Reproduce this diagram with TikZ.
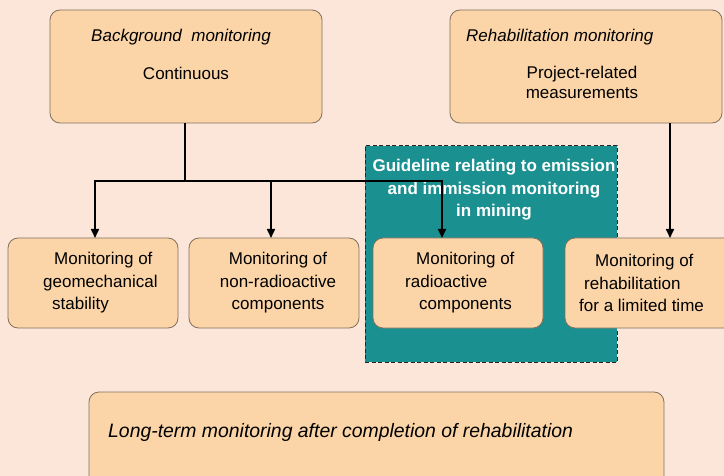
\documentclass[tikz,border=0pt]{standalone}
\usepackage{fontspec}
\setmainfont{Liberation Sans}
\usetikzlibrary{arrows.meta,calc}
\definecolor{bgcol}{RGB}{252,230,218}
\definecolor{boxfill}{RGB}{251,213,168}
\definecolor{boxline}{RGB}{130,112,95}
\definecolor{teal}{RGB}{26,144,144}
\begin{document}
\begin{tikzpicture}[x=1pt,y=-1pt,
  box/.style={draw=boxline, line width=0.8pt, fill=boxfill, rounded corners=10pt, inner sep=0pt},
  txt/.style={inner sep=0pt, font=\fontsize{17}{22.5}\selectfont, text=black},
  conn/.style={line width=1.6pt, black},
  arr/.style={conn, -{Triangle[length=9pt,width=8pt]}}]
\useasboundingbox (0,0) rectangle (724,476);
\clip (0,0) rectangle (724,476);
\fill[bgcol] (0,0) rectangle (724,476);
% guideline area
\node[draw=black!85, dash pattern=on 4pt off 2.5pt, line width=1pt, fill=teal, minimum width=252pt, minimum height=216pt, inner sep=0pt] (gl) at (491,254) {};
\node[txt, text=white, font=\fontsize{17}{22.5}\selectfont\bfseries, align=center] (glt) at (494,190) {Guideline relating to emission\\and immission monitoring\\in mining};
% top boxes
\node[box, minimum width=272pt, minimum height=113pt] (tl) at (186,66.5) {};
\node[txt, font=\fontsize{17}{22.5}\selectfont\itshape] (tlt1) at (181,37) {Background\ \ monitoring};
\node[txt] (tlt2) at (186,73) {Continuous};
\node[box, minimum width=272pt, minimum height=113pt] (tr) at (586,66.5) {};
\node[txt, font=\fontsize{17}{22.5}\selectfont\itshape, anchor=west] (trt1) at (466,37) {Rehabilitation monitoring};
\node[txt, align=center, font=\fontsize{17}{20}\selectfont] (trt2) at (582,82) {Project-related\\measurements};
% bottom row
\node[box, minimum width=170pt, minimum height=90pt] (b1) at (93,283) {};
\node[txt, align=left, anchor=west] (b1t) at (43,283) {\hspace*{11pt}Monitoring of\\geomechanical\\\hspace*{9pt}stability};
\node[box, minimum width=170pt, minimum height=90pt] (b2) at (274,283) {};
\node[txt, align=center] (b2t) at (278,283) {Monitoring of\\non-radioactive\\components};
\node[box, minimum width=170pt, minimum height=90pt] (b3) at (458,283) {};
\node[txt, align=left, anchor=west] (b3t) at (405,283) {\hspace*{11pt}Monitoring of\\radioactive\\\hspace*{14pt}components};
\node[box, minimum width=175pt, minimum height=90pt] (b4) at (652.5,283) {};
\node[txt, align=left, anchor=west] (b4t) at (579,283) {\hspace*{16pt}Monitoring of\\\hspace*{5pt}rehabilitation\\for a limited time};
% long-term box
\node[box, minimum width=575pt, minimum height=100pt] (lt) at (376.5,442) {};
\node[txt, font=\fontsize{19.4}{23}\selectfont\itshape, anchor=west] (ltt) at (108,432) {Long-term monitoring after completion of rehabilitation};
% connectors
\coordinate (j) at (185,181);
\coordinate (a1) at (95,238);
\coordinate (a2) at (271,238);
\coordinate (a3) at (442,238);
\coordinate (r1) at (670,123);
\coordinate (r2) at (670,238);
\draw[conn] (tl.south -| j) -- (j);
\draw[arr] (j) -| (a1);
\draw[arr] (j) -| (a2);
\draw[arr] (j) -| (a3);
\draw[arr] (r1) -- (r2);
\end{tikzpicture}
\end{document}
